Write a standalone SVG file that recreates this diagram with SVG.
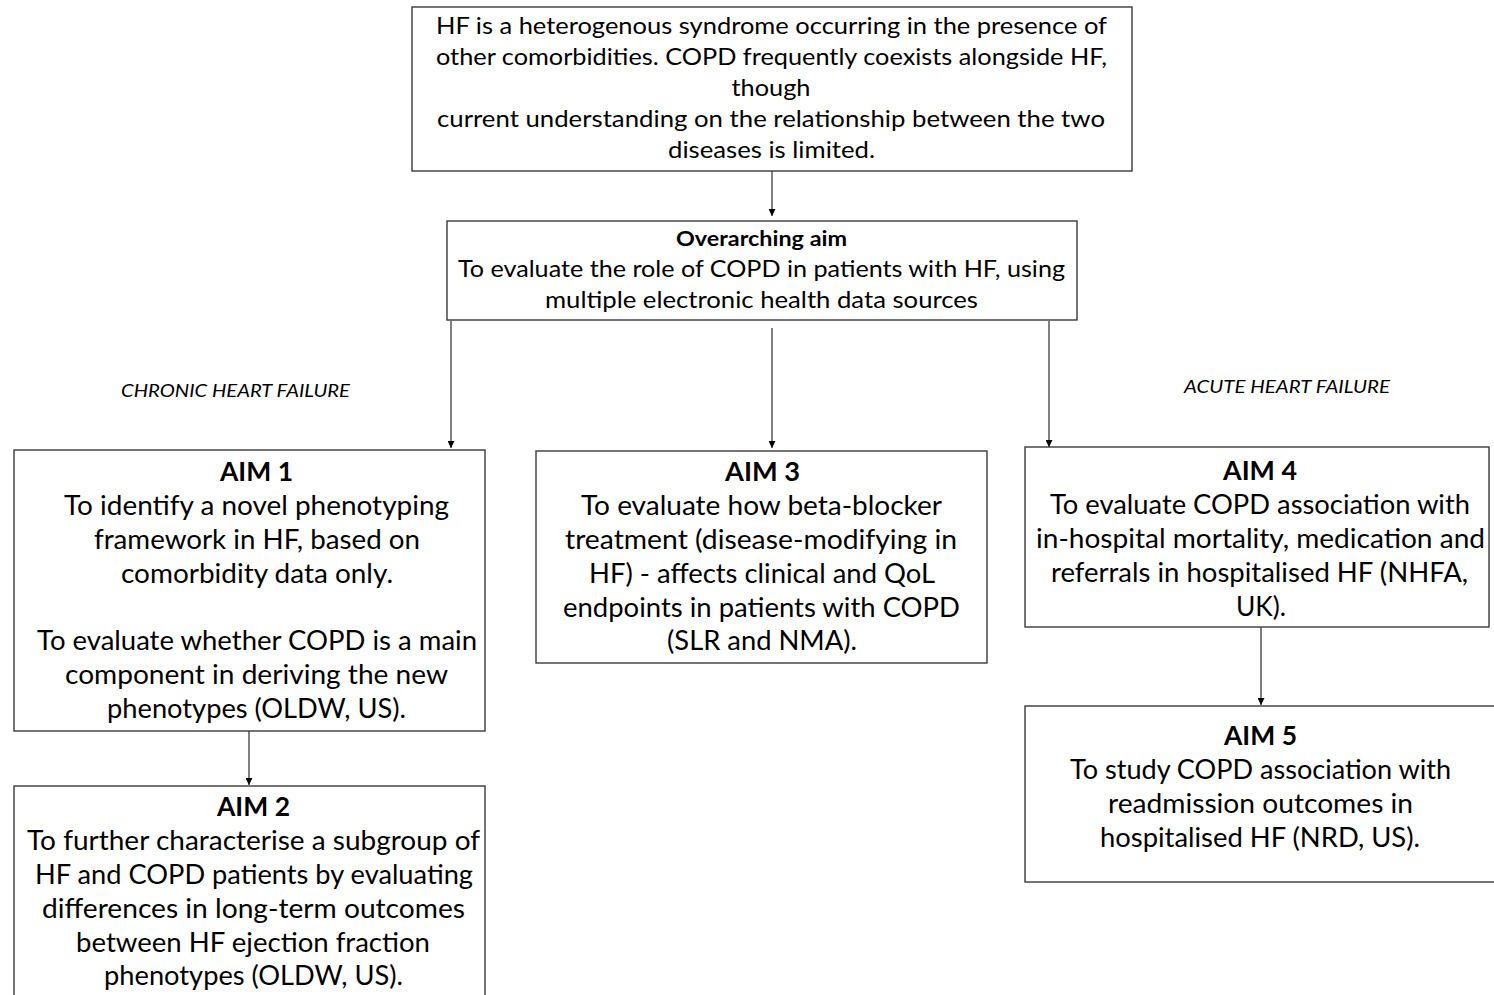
<svg xmlns="http://www.w3.org/2000/svg" width="1494" height="995" viewBox="0 0 1494 995">
  <defs>
    <marker id="arrow" viewBox="0 0 10 10" refX="10" refY="5" markerWidth="7" markerHeight="7" markerUnits="userSpaceOnUse" orient="auto">
      <path d="M0,0 L10,5 L0,10 z" fill="#000"/>
    </marker>
    <style>
      .box { fill: #fff; stroke: #3a3a3a; stroke-width: 1.4; }
      .conn { stroke: #000; stroke-width: 1; fill: none; marker-end: url(#arrow); }
      text { font-family: Lato, "Open Sans", "Liberation Sans", sans-serif; fill: #000; text-anchor: middle; }
      .intro { font-size: 23px; }
      .over { font-size: 23px; }
      .overHead { font-size: 21px; font-weight: bold; }
      .aim { font-size: 27px; }
      .aimHead { font-size: 27px; font-weight: bold; }
      .lbl { font-size: 18px; font-style: italic; }
    </style>
  </defs>

  <!-- connectors -->
  <g id="connectors">
    <line class="conn" x1="772" y1="171" x2="772" y2="216"/>
    <line class="conn" x1="451" y1="321" x2="451" y2="448"/>
    <line class="conn" x1="772" y1="328" x2="772" y2="448"/>
    <line class="conn" x1="1049" y1="321" x2="1049" y2="447"/>
    <line class="conn" x1="249" y1="731" x2="249" y2="785"/>
    <line class="conn" x1="1261" y1="627" x2="1261" y2="705"/>
  </g>

  <!-- context statement -->
  <g id="intro">
    <rect class="box" x="412" y="7" width="720" height="164"/>
    <text class="intro" x="771.5" y="34" textLength="671" lengthAdjust="spacingAndGlyphs">HF is a heterogenous syndrome occurring in the presence of</text>
    <text class="intro" x="771.5" y="65" textLength="671" lengthAdjust="spacingAndGlyphs">other comorbidities. COPD frequently coexists alongside HF,</text>
    <text class="intro" x="771" y="96" textLength="79" lengthAdjust="spacingAndGlyphs">though</text>
    <text class="intro" x="771" y="127" textLength="668" lengthAdjust="spacingAndGlyphs">current understanding on the relationship between the two</text>
    <text class="intro" x="771.5" y="158" textLength="207" lengthAdjust="spacingAndGlyphs">diseases is limited.</text>
  </g>

  <!-- overarching aim -->
  <g id="overarching">
    <rect class="box" x="447" y="221" width="630" height="99"/>
    <text class="overHead" x="761.5" y="246" textLength="171" lengthAdjust="spacingAndGlyphs">Overarching aim</text>
    <text class="over" x="761.5" y="277" textLength="607" lengthAdjust="spacingAndGlyphs">To evaluate the role of COPD in patients with HF, using</text>
    <text class="over" x="761.5" y="308" textLength="433" lengthAdjust="spacingAndGlyphs">multiple electronic health data sources</text>
  </g>

  <!-- branch labels -->
  <g id="labels">
    <text class="lbl" x="235.5" y="397" textLength="229" lengthAdjust="spacingAndGlyphs">CHRONIC HEART FAILURE</text>
    <text class="lbl" x="1287" y="393" textLength="206" lengthAdjust="spacingAndGlyphs">ACUTE HEART FAILURE</text>
  </g>

  <!-- AIM 1 -->
  <g id="aim1">
    <rect class="box" x="14" y="450" width="471" height="281"/>
    <text class="aimHead" x="256.5" y="481" textLength="73" lengthAdjust="spacingAndGlyphs">AIM 1</text>
    <text class="aim" x="256.5" y="515" textLength="385" lengthAdjust="spacingAndGlyphs">To identify a novel phenotyping</text>
    <text class="aim" x="257" y="549" textLength="326" lengthAdjust="spacingAndGlyphs">framework in HF, based on</text>
    <text class="aim" x="257" y="583" textLength="272" lengthAdjust="spacingAndGlyphs">comorbidity data only.</text>
    <text class="aim" x="257" y="650" textLength="440" lengthAdjust="spacingAndGlyphs">To evaluate whether COPD is a main</text>
    <text class="aim" x="256.5" y="684" textLength="383" lengthAdjust="spacingAndGlyphs">component in deriving the new</text>
    <text class="aim" x="256.5" y="718" textLength="299" lengthAdjust="spacingAndGlyphs">phenotypes (OLDW, US).</text>
  </g>

  <!-- AIM 2 -->
  <g id="aim2">
    <rect class="box" x="14" y="786" width="471" height="220"/>
    <text class="aimHead" x="253.5" y="816" textLength="73" lengthAdjust="spacingAndGlyphs">AIM 2</text>
    <text class="aim" x="253.5" y="850" textLength="453" lengthAdjust="spacingAndGlyphs">To further characterise a subgroup of</text>
    <text class="aim" x="254" y="884" textLength="438" lengthAdjust="spacingAndGlyphs">HF and COPD patients by evaluating</text>
    <text class="aim" x="253.5" y="918" textLength="423" lengthAdjust="spacingAndGlyphs">differences in long-term outcomes</text>
    <text class="aim" x="253" y="952" textLength="354" lengthAdjust="spacingAndGlyphs">between HF ejection fraction</text>
    <text class="aim" x="253.5" y="985" textLength="299" lengthAdjust="spacingAndGlyphs">phenotypes (OLDW, US).</text>
  </g>

  <!-- AIM 3 -->
  <g id="aim3">
    <rect class="box" x="536" y="451" width="451" height="212"/>
    <text class="aimHead" x="762.5" y="481" textLength="75" lengthAdjust="spacingAndGlyphs">AIM 3</text>
    <text class="aim" x="761.5" y="515" textLength="361" lengthAdjust="spacingAndGlyphs">To evaluate how beta-blocker</text>
    <text class="aim" x="761" y="549" textLength="392" lengthAdjust="spacingAndGlyphs">treatment (disease-modifying in</text>
    <text class="aim" x="762" y="583" textLength="346" lengthAdjust="spacingAndGlyphs">HF) - affects clinical and QoL</text>
    <text class="aim" x="761.5" y="617" textLength="397" lengthAdjust="spacingAndGlyphs">endpoints in patients with COPD</text>
    <text class="aim" x="762" y="650" textLength="190" lengthAdjust="spacingAndGlyphs">(SLR and NMA).</text>
  </g>

  <!-- AIM 4 -->
  <g id="aim4">
    <rect class="box" x="1025" y="447" width="464" height="180"/>
    <text class="aimHead" x="1260" y="480" textLength="74" lengthAdjust="spacingAndGlyphs">AIM 4</text>
    <text class="aim" x="1260" y="514" textLength="420" lengthAdjust="spacingAndGlyphs">To evaluate COPD association with</text>
    <text class="aim" x="1260.5" y="548" textLength="449" lengthAdjust="spacingAndGlyphs">in-hospital mortality, medication and</text>
    <text class="aim" x="1259.5" y="582" textLength="417" lengthAdjust="spacingAndGlyphs">referrals in hospitalised HF (NHFA,</text>
    <text class="aim" x="1261" y="616" textLength="50" lengthAdjust="spacingAndGlyphs">UK).</text>
  </g>

  <!-- AIM 5 -->
  <g id="aim5">
    <rect class="box" x="1025" y="706" width="480" height="176"/>
    <text class="aimHead" x="1260.5" y="745" textLength="73" lengthAdjust="spacingAndGlyphs">AIM 5</text>
    <text class="aim" x="1260.5" y="779" textLength="381" lengthAdjust="spacingAndGlyphs">To study COPD association with</text>
    <text class="aim" x="1260.5" y="813" textLength="305" lengthAdjust="spacingAndGlyphs">readmission outcomes in</text>
    <text class="aim" x="1260" y="847" textLength="320" lengthAdjust="spacingAndGlyphs">hospitalised HF (NRD, US).</text>
  </g>
</svg>
